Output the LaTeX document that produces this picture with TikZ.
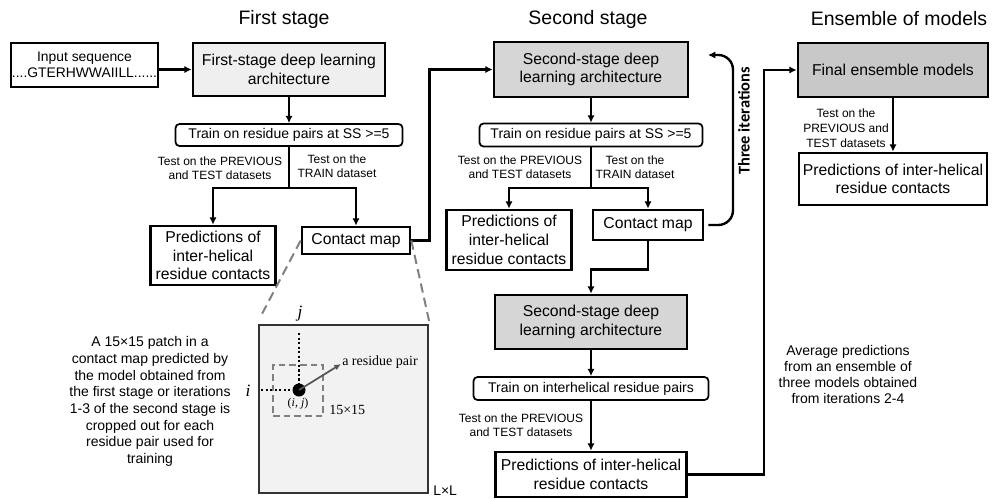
\documentclass[tikz,border=0pt]{standalone}
\usepackage{fontspec}
\setmainfont{Liberation Sans}
\newfontfamily\dgSerifFamily{Liberation Serif}
\newfontfamily\dgSideFamily{Carlito}
\usetikzlibrary{arrows.meta,calc}

% font sizes used in the flow chart
\newcommand\dgTitle{\fontsize{14.6pt}{17pt}\selectfont}
\newcommand\dgBox{\fontsize{11.8pt}{14pt}\selectfont}
\newcommand\dgTrain{\fontsize{10.5pt}{12pt}\selectfont}
\newcommand\dgInput{\fontsize{10.4pt}{12pt}\selectfont}
\newcommand\dgLabel{\fontsize{9pt}{10.6pt}\selectfont}
\newcommand\dgPara{\fontsize{10.5pt}{12.5pt}\selectfont}
\newcommand\dgNote{\fontsize{10.5pt}{12.2pt}\selectfont}

\definecolor{stageone}{HTML}{EFEFEF}
\definecolor{stagetwo}{HTML}{D6D6D6}
\definecolor{ensemble}{HTML}{C8C8C8}
\definecolor{mapfill}{HTML}{F2F2F2}
\definecolor{mapline}{HTML}{333333}
\definecolor{zoomgray}{HTML}{808080}
\definecolor{pairgray}{HTML}{555555}

\begin{document}
\begin{tikzpicture}[x=0.75pt,y=-0.75pt,
  conn/.style={line width=1.8pt,-{Latex[length=5.5pt,width=5.5pt]}},
  plainline/.style={line width=1.8pt},
  bigbox/.style={draw,line width=2pt,align=center,inner sep=1pt,font=\dgBox},
  inbox/.style={draw,line width=0.9pt,align=center,inner xsep=0pt,inner ysep=1pt,font=\dgInput},
  trainbox/.style={draw,rounded corners=3pt,line width=1.3pt,inner sep=1pt,font=\dgTrain},
  lbl/.style={inner sep=0pt,align=center,font=\dgLabel},
  stagetitle/.style={inner sep=0pt,font=\dgTitle},
  zoomline/.style={draw=zoomgray,line width=1.5pt,dash pattern=on 7pt off 4pt},
  dotline/.style={line width=1.7pt,dash pattern=on 1.7pt off 1.7pt},
  serif/.style={inner sep=0pt,font=\dgSerifFamily\fontsize{10.5pt}{12pt}\selectfont}
]
\useasboundingbox (0,0) rectangle (992,500);

% column titles
\node[stagetitle] (t-first)  at (284,19) {First stage};
\node[stagetitle] (t-second) at (588,19) {Second stage};
\node[stagetitle] (t-ens)    at (899,19) {Ensemble of models};

% ---------- first stage ----------
\node[inbox,minimum width=110.25pt,minimum height=33pt] (inp) at (84.5,65)
  {Input sequence\\....GTERHWWAIILL......};
\node[bigbox,fill=stageone,minimum width=144pt,minimum height=39.75pt] (s1) at (289,69.5)
  {First-stage deep learning\\architecture};
\node[trainbox,minimum width=170.25pt,minimum height=16.5pt] (t1) at (289,135)
  {Train on residue pairs at SS >=5};
\node[bigbox,minimum width=93.75pt,minimum height=44.25pt] (p1) at (213,255.5)
  {Predictions of\\inter-helical\\residue contacts};
\node[bigbox,minimum width=81pt,minimum height=20.25pt] (c1) at (356,240.5)
  {Contact map};
\node[lbl] (l1a) at (220,168) {Test on the PREVIOUS\\and TEST datasets};
\node[lbl] (l1b) at (337,166.5) {Test on the\\TRAIN dataset};

\coordinate (j1) at (289,188);
\draw[conn] (inp.east |- s1.west) -- (s1.west);
\draw[conn] (s1.south) -- (t1.north);
\draw[plainline] (t1.south) -- (j1);
\draw[conn] (j1) -| (p1.north);
\draw[conn] (j1) -| (c1.north);

% ---------- second stage ----------
\node[bigbox,fill=stagetwo,minimum width=145.5pt,minimum height=41.25pt] (s2) at (591,69.5)
  {Second-stage deep\\learning architecture};
\node[trainbox,minimum width=167.25pt,minimum height=17.25pt] (t2) at (591,135)
  {Train on residue pairs at SS >=5};
\node[bigbox,minimum width=93.75pt,minimum height=45pt] (p2) at (509,240)
  {Predictions of\\inter-helical\\residue contacts};
\node[bigbox,minimum width=82.5pt,minimum height=22.5pt] (c2) at (648,225)
  {Contact map};
\node[lbl] (l2a) at (520,167.5) {Test on the PREVIOUS\\and TEST datasets};
\node[lbl] (l2b) at (635,167.5) {Test on the\\TRAIN dataset};

\coordinate (j2) at (591,188);
\draw[conn] (c1.east) -- ++(18,0) |- (s2.west);
\draw[conn] (s2.south) -- (t2.north);
\draw[plainline] (t2.south) -- (j2);
\draw[conn] (j2) -| (p2.north);
\draw[conn] (j2) -| (c2.north);

% iteration loop
\coordinate (itertop) at (708,55);
\draw[conn,rounded corners=11pt] ([xshift=3pt]c2.east) -- (733,225) -- (733,55) -- (itertop);
\node[inner sep=0pt,rotate=90,font=\dgSideFamily\bfseries\fontsize{12.3pt}{14pt}\selectfont] (iter) at (744,121) {Three iterations};

\node[bigbox,fill=stagetwo,minimum width=144pt,minimum height=40.5pt] (s3) at (591,322)
  {Second-stage deep\\learning architecture};
\node[trainbox,minimum width=176.25pt,minimum height=17.25pt] (t3) at (591,388.5)
  {Train on interhelical residue pairs};
\node[bigbox,minimum width=143.25pt,minimum height=33.75pt] (p3) at (591,474.5)
  {Predictions of inter-helical\\residue contacts};
\node[lbl] (l3) at (521,425.5) {Test on the PREVIOUS\\and TEST datasets};

\draw[conn] (c2.south) -- ++(0,28) -| (s3.north);
\draw[conn] (s3.south) -- (t3.north);
\draw[conn] (t3.south) -- (p3.north);

% ---------- ensemble ----------
\node[bigbox,fill=ensemble,minimum width=142.5pt,minimum height=40.5pt] (fe) at (893,70)
  {Final ensemble models};
\node[bigbox,minimum width=141pt,minimum height=39pt] (pf) at (893,179)
  {Predictions of inter-helical\\residue contacts};
\node[lbl,font=\fontsize{9pt}{11.2pt}\selectfont] (lf) at (846,128) {Test on the\\PREVIOUS and\\TEST datasets};
\node[inner sep=0pt,align=center,font=\dgNote] (avg) at (848,374.5)
  {Average predictions\\from an ensemble of\\three models obtained\\from iterations 2-4};

\draw[conn] (p3.east) -- ++(76,0) |- (fe.west);
\draw[conn] (fe.south) -- (pf.north);

% ---------- contact-map patch ----------
\node[inner sep=0pt,align=center,font=\dgPara] (para) at (150,401.5)
  {A 15×15 patch in a\\contact map predicted by\\the model obtained from\\the first stage or iterations\\1-3 of the second stage is\\cropped out for each\\residue pair used for\\training};

\node[draw=mapline,fill=mapfill,line width=1.6pt,minimum width=126.75pt,minimum height=126pt,inner sep=0pt] (cmap) at (343.5,409) {};
\draw[zoomline] (c1.west) -- ($(cmap.north west)+(3,-8)$);
\draw[zoomline] (c1.east) -- ($(cmap.north east)+(0,-3)$);
\node[inner sep=0pt,anchor=west] (lxl) at (433,491) {\fontsize{10.5pt}{12pt}\selectfont L×L};

\node[draw=zoomgray,line width=1.5pt,dash pattern=on 5pt off 3pt,minimum width=37.5pt,minimum height=38.25pt,inner sep=0pt] (patch) at (298,390.5) {};
\node[circle,fill=black,minimum size=9.75pt,inner sep=0pt] (pair) at (299,390) {};
\coordinate (jtop) at (299,333);
\coordinate (ileft) at (261,390);
\coordinate (pairtip) at (341,364);
\draw[dotline] (jtop) -- (pair);
\draw[dotline] (ileft) -- (pair);
\draw[draw=pairgray,line width=1.3pt,-{Latex[length=5pt,width=4.5pt]}] (pair.center) -- (pairtip);

\node[serif,anchor=west] (pairlbl) at (342,362) {a residue pair};
\node[serif,anchor=west] (size) at (329,410) {15×15};
\node[serif,font=\dgSerifFamily\fontsize{9pt}{10pt}\selectfont] (ij) at (298,404) {(\textit{i}, \textit{j})};
\node[inner sep=0pt,font=\dgSerifFamily\itshape\fontsize{13pt}{14pt}\selectfont] (jlbl) at (300,314) {j};
\node[inner sep=0pt,font=\dgSerifFamily\itshape\fontsize{13pt}{14pt}\selectfont] (ilbl) at (248,391) {i};
\end{tikzpicture}
\end{document}
